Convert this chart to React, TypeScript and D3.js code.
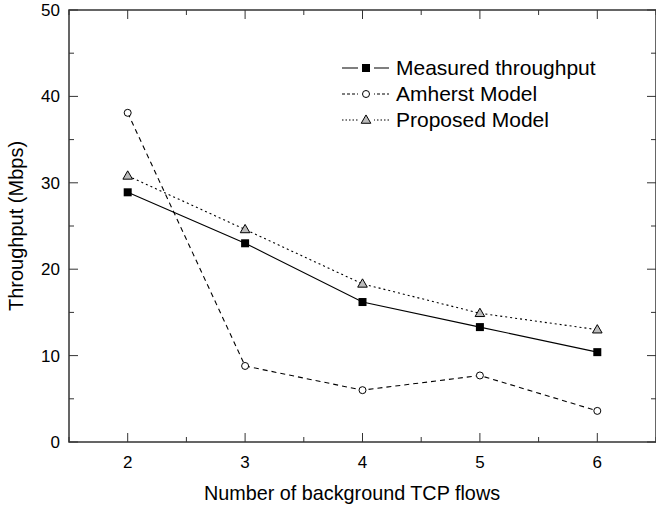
import React, { useEffect, useRef } from 'react';
import * as d3 from 'd3';

const flows = [2, 3, 4, 5, 6];
const measured = [28.9, 23.0, 16.2, 13.3, 10.4];
const amherst = [38.1, 8.8, 6.0, 7.7, 3.6];
const proposed = [30.8, 24.6, 18.3, 14.9, 13.0];
const yTicks = [0, 10, 20, 30, 40, 50];
const seriesNames = ['Measured throughput', 'Amherst Model', 'Proposed Model'];

function App() {
    const ref = useRef<SVGSVGElement>(null);

    const width = 656;
    const height = 511;
    const marginLeft = 69;
    const marginRight = 0;
    const marginTop = 10;
    const marginBottom = 69;

    useEffect(() => {
        const svg = d3.select(ref.current);
        svg.selectAll('*').remove();

        const x = d3.scaleLinear().domain([1.5, 6.5]).range([marginLeft, width - marginRight]);
        const y = d3.scaleLinear().domain([0, 50]).range([height - marginBottom, marginTop]);
        const font = 'Liberation Sans, Arial, sans-serif';

        // frame
        svg.append('rect')
            .attr('x', marginLeft).attr('y', marginTop)
            .attr('width', width - marginRight - marginLeft)
            .attr('height', height - marginBottom - marginTop)
            .attr('fill', 'none').attr('stroke', '#333').attr('stroke-width', 1.5);

        const majorX = flows;
        const minorX = d3.range(1.5, 6.51, 0.5).filter(v => !majorX.includes(v));
        const minorY = d3.range(5, 50, 10);
        const x0 = x.range()[0], x1 = x.range()[1];
        const y0 = y.range()[0], y1 = y.range()[1];
        const ticks = svg.append('g').attr('stroke', '#333').attr('stroke-width', 1);
        majorX.forEach(v => {
            ticks.append('line').attr('x1', x(v)).attr('x2', x(v)).attr('y1', y0).attr('y2', y0 - 9);
            ticks.append('line').attr('x1', x(v)).attr('x2', x(v)).attr('y1', y1).attr('y2', y1 + 9);
        });
        minorX.forEach(v => {
            ticks.append('line').attr('x1', x(v)).attr('x2', x(v)).attr('y1', y0).attr('y2', y0 - 5);
            ticks.append('line').attr('x1', x(v)).attr('x2', x(v)).attr('y1', y1).attr('y2', y1 + 5);
        });
        yTicks.forEach(v => {
            ticks.append('line').attr('x1', x0).attr('x2', x0 + 9).attr('y1', y(v)).attr('y2', y(v));
            ticks.append('line').attr('x1', x1).attr('x2', x1 - 9).attr('y1', y(v)).attr('y2', y(v));
        });
        minorY.forEach(v => {
            ticks.append('line').attr('x1', x0).attr('x2', x0 + 5).attr('y1', y(v)).attr('y2', y(v));
            ticks.append('line').attr('x1', x1).attr('x2', x1 - 5).attr('y1', y(v)).attr('y2', y(v));
        });

        // tick labels
        svg.append('g').selectAll('text').data(majorX).join('text')
            .attr('x', d => x(d)).attr('y', y0 + 26)
            .attr('text-anchor', 'middle')
            .attr('font-family', font).attr('font-size', 17)
            .text(d => d);
        svg.append('g').selectAll('text').data(yTicks).join('text')
            .attr('x', x0 - 9).attr('y', d => y(d)).attr('dy', '0.35em')
            .attr('text-anchor', 'end')
            .attr('font-family', font).attr('font-size', 17)
            .text(d => d);

        // axis titles
        svg.append('text')
            .attr('x', 352).attr('y', 500)
            .attr('text-anchor', 'middle')
            .attr('font-family', font).attr('font-size', 19.8)
            .text('Number of background TCP flows');
        svg.append('text')
            .attr('transform', `translate(23,${y(25)}) rotate(-90)`)
            .attr('text-anchor', 'middle')
            .attr('font-family', font).attr('font-size', 20)
            .text('Throughput (Mbps)');

        const line = d3.line<number>().x((d, i) => x(flows[i])).y(d => y(d));
        const styles = [
            { data: measured, dash: null, legendDash: null, marker: 'square' },
            { data: amherst, dash: '5,4', legendDash: '3,2', marker: 'circle' },
            { data: proposed, dash: '2,3', legendDash: '1.5,2', marker: 'triangle' },
        ];

        const drawMarker = (g, kind, cx, cy) => {
            if (kind === 'square') {
                g.append('rect').attr('x', cx - 4).attr('y', cy - 4).attr('width', 8).attr('height', 8)
                    .attr('fill', '#000');
            } else if (kind === 'circle') {
                g.append('circle').attr('cx', cx).attr('cy', cy).attr('r', 3.5)
                    .attr('fill', '#fff').attr('stroke', '#000').attr('stroke-width', 1);
            } else {
                g.append('path').attr('d', d3.symbol(d3.symbolTriangle, 40)())
                    .attr('transform', `translate(${cx},${cy + 0.5})`)
                    .attr('fill', '#bbb').attr('stroke', '#000').attr('stroke-width', 1);
            }
        };

        styles.forEach(s => {
            svg.append('path')
                .attr('d', line(s.data))
                .attr('fill', 'none').attr('stroke', '#000').attr('stroke-width', 1.1)
                .attr('stroke-dasharray', s.dash);
            const g = svg.append('g');
            s.data.forEach((v, i) => drawMarker(g, s.marker, x(flows[i]), y(v)));
        });

        // legend
        const legend = svg.append('g');
        styles.forEach((s, i) => {
            const ly = 68 + i * 26;
            legend.append('line').attr('x1', 342).attr('x2', 389).attr('y1', ly).attr('y2', ly)
                .attr('stroke', '#000').attr('stroke-width', 1.1).attr('stroke-dasharray', s.legendDash);
            legend.append('rect').attr('x', 358).attr('y', ly - 5).attr('width', 16).attr('height', 10).attr('fill', '#fff');
            drawMarker(legend, s.marker, 366, ly);
            legend.append('text').attr('x', 396).attr('y', ly).attr('dy', '0.35em')
                .attr('font-family', font).attr('font-size', 21)
                .text(seriesNames[i]);
        });
    }, []);

    return (
        <svg ref={ref} width={width} height={height}
            style={{ position: 'absolute', left: 0, top: 0, background: '#fff' }} />
    );
}

export default App;
